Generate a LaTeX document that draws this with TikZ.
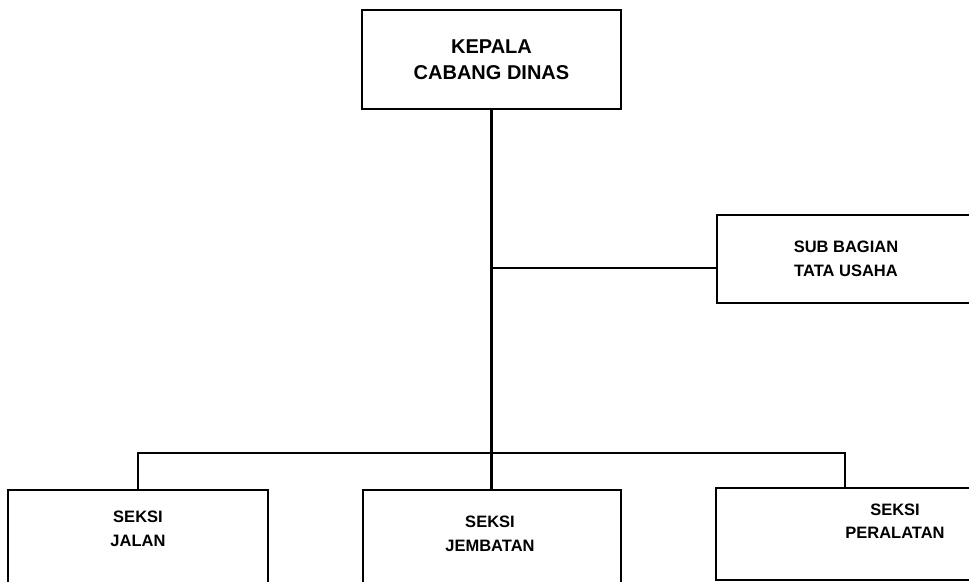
\documentclass[tikz,border=0pt]{standalone}
\usepackage{fontspec}
\setmainfont{Liberation Sans}
\begin{document}
\begin{tikzpicture}[x=1pt,y=-1pt,
  conn/.style={line width=2.4pt},
  boxshape/.style={draw, line width=2.4pt, rectangle, inner sep=0pt},
  bigtext/.style={align=center, font=\fontsize{20}{26}\selectfont\bfseries},
  smalltext/.style={align=center, font=\fontsize{16.5}{23.5}\selectfont\bfseries}]
\useasboundingbox (0,0) rectangle (969,581);
% top box
\node[boxshape, bigtext, minimum width=259pt, minimum height=99pt] (kepala) at (491.5,59.5) {KEPALA\\CABANG DINAS};
% sub bagian
\node[boxshape, smalltext, minimum width=258pt, minimum height=88pt] (sub) at (846,259) {SUB BAGIAN\\TATA USAHA};
% bottom boxes
\node[boxshape, minimum width=260pt, minimum height=110pt, anchor=north] (jalan) at (138,489) {};
\node[smalltext] (jalant) at (138,529) {SEKSI\\JALAN};
\node[boxshape, minimum width=258pt, minimum height=110pt, anchor=north] (jembatan) at (492,489) {};
\node[smalltext] (jembatant) at (490,534) {SEKSI\\JEMBATAN};
\node[boxshape, minimum width=258pt, minimum height=92pt, anchor=north] (peralatan) at (845,487) {};
\node[smalltext] (peralatant) at (895,521) {SEKSI\\PERALATAN};
% connectors
\coordinate (subj) at (491.5,268);
\coordinate (bus) at (491.5,453);
\draw[conn] (kepala.south) -- (kepala.south |- jembatan.north);
\draw[conn] (subj) -- (subj -| sub.west);
\draw[conn] (jalan.north) |- (bus) -| (peralatan.north);
\end{tikzpicture}
\end{document}
